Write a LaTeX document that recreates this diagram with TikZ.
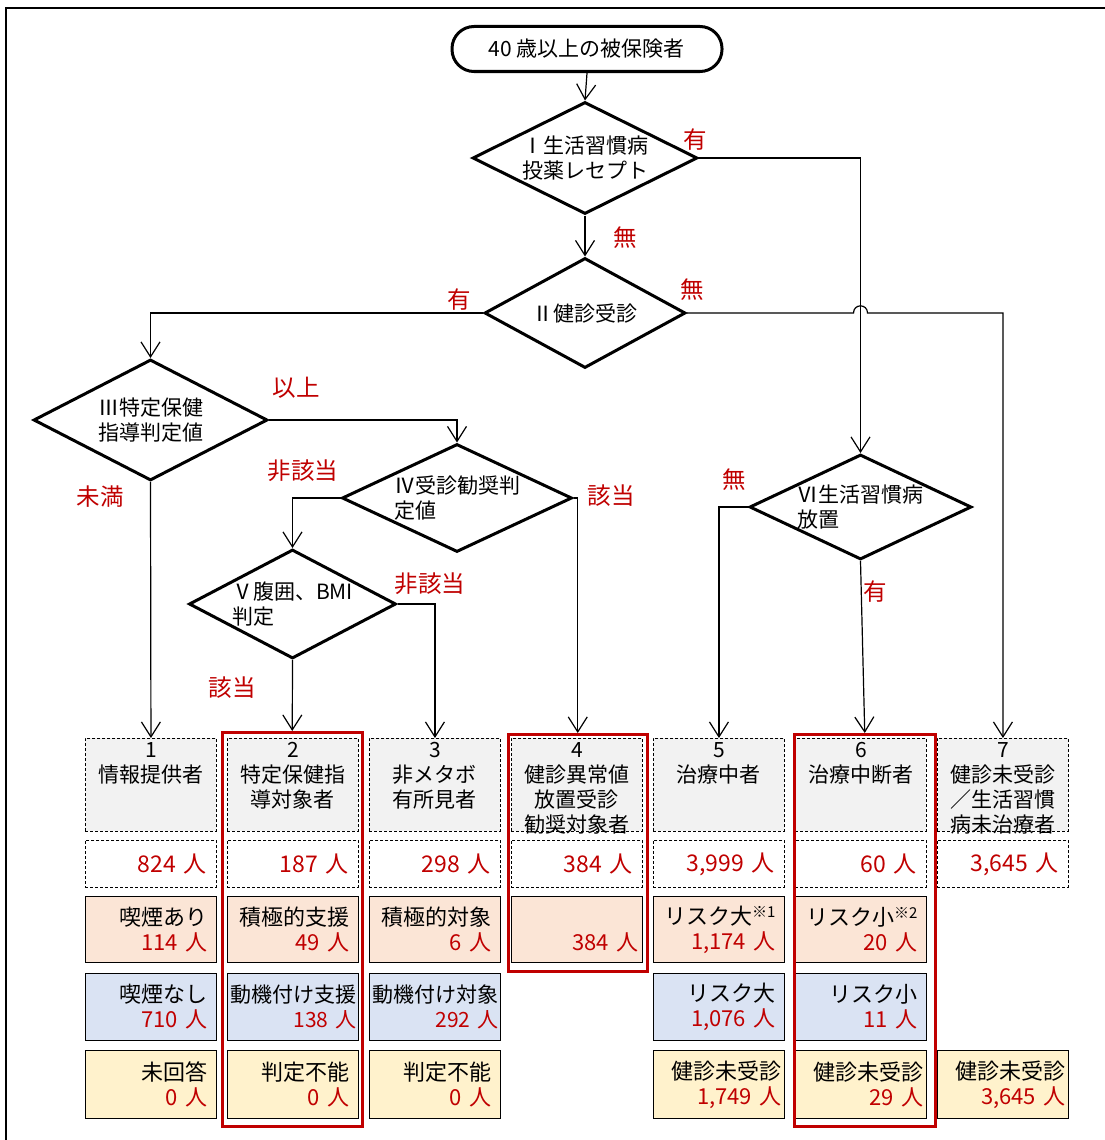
\documentclass[tikz,border=0pt]{standalone}
\usepackage{fontspec}
\setmainfont{Noto Sans CJK JP}
\usetikzlibrary{arrows.meta,shapes.geometric,calc}
\definecolor{rd}{HTML}{C00000}
\definecolor{hdgray}{HTML}{F2F2F2}
\definecolor{pch}{HTML}{FBE5D6}
\definecolor{blu}{HTML}{DAE3F3}
\definecolor{ylw}{HTML}{FFF2CC}
\newcommand{\mkhead}[1]{\parbox[c][93pt][t]{131pt}{\centering\rule{0pt}{19pt}#1}}
\newcommand{\lft}[1]{\makebox[0pt][r]{#1}}
\newcommand{\supnote}[1]{\raisebox{7pt}{\fontsize{15}{15}\selectfont #1}}
\begin{document}
\begin{tikzpicture}[x=1pt,y=-1pt,
  every node/.style={font=\fontsize{21}{25}\selectfont},
  dia/.style={diamond, draw, line width=3pt, inner sep=-3pt},
  conn/.style={line width=1.2pt},
  arr/.style={conn, -{Straight Barb[length=15pt,width=19pt,line width=1.2pt]}},
  lab/.style={text=rd, font=\fontsize{23.5}{26}\selectfont},
  hdbox/.style={draw, dash pattern=on 3pt off 2pt, fill=hdgray, line width=0.9pt, anchor=north west, inner sep=0pt, minimum width=131pt, minimum height=93pt},
  cntbox/.style={draw, dash pattern=on 3pt off 2pt, fill=white, line width=0.9pt, anchor=north west, inner xsep=10pt, inner ysep=0pt, text width=111pt, align=right, minimum height=47pt, text=rd, font=\fontsize{23}{26}\selectfont},
  rowbox/.style={draw, line width=1pt, anchor=north west, inner xsep=9pt, inner ysep=0pt, text width=113pt, align=right, font=\fontsize{22}{25}\selectfont},
  widebox/.style={rowbox, inner xsep=2pt, text width=127pt, font=\fontsize{21}{25}\selectfont},
  redframe/.style={draw=rd, line width=2.5pt, anchor=north west, inner sep=0pt}
]
\useasboundingbox (0,0) rectangle (1105,1140);
\fill[white] (0,0) rectangle (1105,1140);
% outer frame
\draw[line width=2pt] (6,1140) -- (6,8) -- (1105,8);

% start
\node[draw, line width=3pt, rounded corners=22pt, minimum width=270pt, minimum height=45pt] (start) at (587,49) {40 歳以上の被保険者};

% diamonds
\node[dia, aspect=2, minimum width=225pt, minimum height=112pt, align=center] (d1) at (585,158) {Ⅰ生活習慣病\\投薬レセプト};
\node[dia, aspect=1.83, minimum width=201pt, minimum height=110pt, align=center] (d2) at (585,313) {Ⅱ健診受診};
\node[dia, aspect=1.93, minimum width=234pt, minimum height=121pt, align=center] (d3) at (150.5,420) {Ⅲ特定保健\\指導判定値};
\node[dia, aspect=2.13, minimum width=230pt, minimum height=108pt, align=left] (d4) at (457,498) {Ⅳ受診勧奨判\\定値};
\node[dia, aspect=1.9, minimum width=207pt, minimum height=109pt, align=left] (d5) at (292.5,604) {Ⅴ腹囲、BMI\\判定};
\node[dia, aspect=2.1, minimum width=222pt, minimum height=105pt, align=left] (d6) at (860.5,507) {Ⅵ生活習慣病\\放置};

% header boxes
\node[hdbox] (h1) at (85,738) {\mkhead{1\\情報提供者}};
\node[hdbox] (h2) at (227,738) {\mkhead{2\\特定保健指\\導対象者}};
\node[hdbox] (h3) at (369,738) {\mkhead{3\\非メタボ\\有所見者}};
\node[hdbox] (h4) at (511,738) {\mkhead{4\\健診異常値\\放置受診\\勧奨対象者}};
\node[hdbox] (h5) at (653,738) {\mkhead{5\\治療中者}};
\node[hdbox] (h6) at (795,738) {\mkhead{6\\治療中断者}};
\node[hdbox] (h7) at (937,738) {\mkhead{7\\健診未受診\\／生活習慣\\病未治療者}};

% count boxes
\node[cntbox] (c1) at (85,840) {824 人};
\node[cntbox] (c2) at (227,840) {187 人};
\node[cntbox] (c3) at (369,840) {298 人};
\node[cntbox] (c4) at (511,840) {384 人};
\node[cntbox] (c5) at (653,840) {3,999 人};
\node[cntbox] (c6) at (795,840) {60 人};
\node[cntbox] (c7) at (937,840) {3,645 人};

% row A
\node[rowbox, fill=pch, minimum height=66pt] (a1) at (85,896) {喫煙あり\\\textcolor{rd}{114 人}};
\node[rowbox, fill=pch, minimum height=66pt] (a2) at (227,896) {積極的支援\\\textcolor{rd}{49 人}};
\node[rowbox, fill=pch, minimum height=66pt] (a3) at (369,896) {積極的対象\\\textcolor{rd}{6 人}};
\node[rowbox, fill=pch, minimum height=66pt, inner xsep=4pt, text width=123pt] (a4) at (511,896) {\strut\\\textcolor{rd}{384 人}};
\node[rowbox, fill=pch, minimum height=66pt] (a5) at (653,896) {\lft{リスク大\supnote{※1}}\\\textcolor{rd}{1,174 人}};
\node[rowbox, fill=pch, minimum height=66pt] (a6) at (795,896) {\lft{リスク小\supnote{※2}}\\\textcolor{rd}{20 人}};

% row B
\node[rowbox, fill=blu, minimum height=67pt] (b1) at (85,973) {喫煙なし\\\textcolor{rd}{710 人}};
\node[widebox, fill=blu, minimum height=67pt] (b2) at (227,973) {動機付け支援\\\textcolor{rd}{138 人}};
\node[widebox, fill=blu, minimum height=67pt] (b3) at (369,973) {動機付け対象\\\textcolor{rd}{292 人}};
\node[rowbox, fill=blu, minimum height=67pt] (b5) at (653,973) {リスク大\\\textcolor{rd}{1,076 人}};
\node[rowbox, fill=blu, minimum height=67pt] (b6) at (795,973) {リスク小\\\textcolor{rd}{11 人}};

% row C
\node[rowbox, fill=ylw, minimum height=68pt] (e1) at (85,1050) {未回答\\\textcolor{rd}{0 人}};
\node[rowbox, fill=ylw, minimum height=68pt] (e2) at (227,1050) {判定不能\\\textcolor{rd}{0 人}};
\node[rowbox, fill=ylw, minimum height=68pt] (e3) at (369,1050) {判定不能\\\textcolor{rd}{0 人}};
\node[rowbox, fill=ylw, minimum height=68pt, inner xsep=3pt, text width=125pt] (e5) at (653,1050) {健診未受診\\\textcolor{rd}{1,749 人}};
\node[rowbox, fill=ylw, minimum height=68pt, inner xsep=3pt, text width=125pt] (e6) at (795,1050) {健診未受診\\\textcolor{rd}{29 人}};
\node[rowbox, fill=ylw, minimum height=68pt, inner xsep=3pt, text width=125pt] (e7) at (937,1050) {健診未受診\\\textcolor{rd}{3,645 人}};

% red frames
\node[redframe, minimum width=140pt, minimum height=394pt] (r2) at (221,731) {};
\node[redframe, minimum width=139pt, minimum height=237pt] (r4) at (507,733) {};
\node[redframe, minimum width=141pt, minimum height=392pt] (r6) at (793,733) {};

% connectors
\coordinate (jx) at (d6.north |- d2.east);
\draw[arr] (start.south) -- (d1.north);
\draw[arr] (d1.south) -- (d2.north);
\draw[arr] (d1.east) -| (d6.north);
\draw[arr] (d2.west) -| (d3.north);
\draw[arr] (d2.east) -- ([xshift=-7pt]jx) .. controls ([xshift=-7pt,yshift=9.5pt]jx) and ([xshift=7pt,yshift=9.5pt]jx) .. ([xshift=7pt]jx) -| (h7.north);
\draw[arr] (d3.east) -| (d4.north);
\draw[arr] (d3.south) -- (h1.north);
\draw[arr] (d4.west) -| (d5.north);
\draw[arr] (d4.east) -| (r4.north);
\draw[arr] (d5.east) -| (h3.north);
\draw[arr] (d5.south) -- (r2.north);
\draw[arr] (d6.west) -| (h5.north);
\draw[arr] (d6.south) -- (r6.north);

% labels
\node[lab] (l1) at (695,140) {有};
\node[lab] (l2) at (625,238) {無};
\node[lab] (l3) at (459,300) {有};
\node[lab] (l4) at (692,290) {無};
\node[lab] (l5) at (296,388) {以上};
\node[lab] (l6) at (100,497) {未満};
\node[lab] (l7) at (303,471) {非該当};
\node[lab] (l8) at (611,496) {該当};
\node[lab] (l9) at (430,584) {非該当};
\node[lab] (l10) at (232,688) {該当};
\node[lab] (l11) at (734,480) {無};
\node[lab] (l12) at (875,592) {有};
\end{tikzpicture}
\end{document}
